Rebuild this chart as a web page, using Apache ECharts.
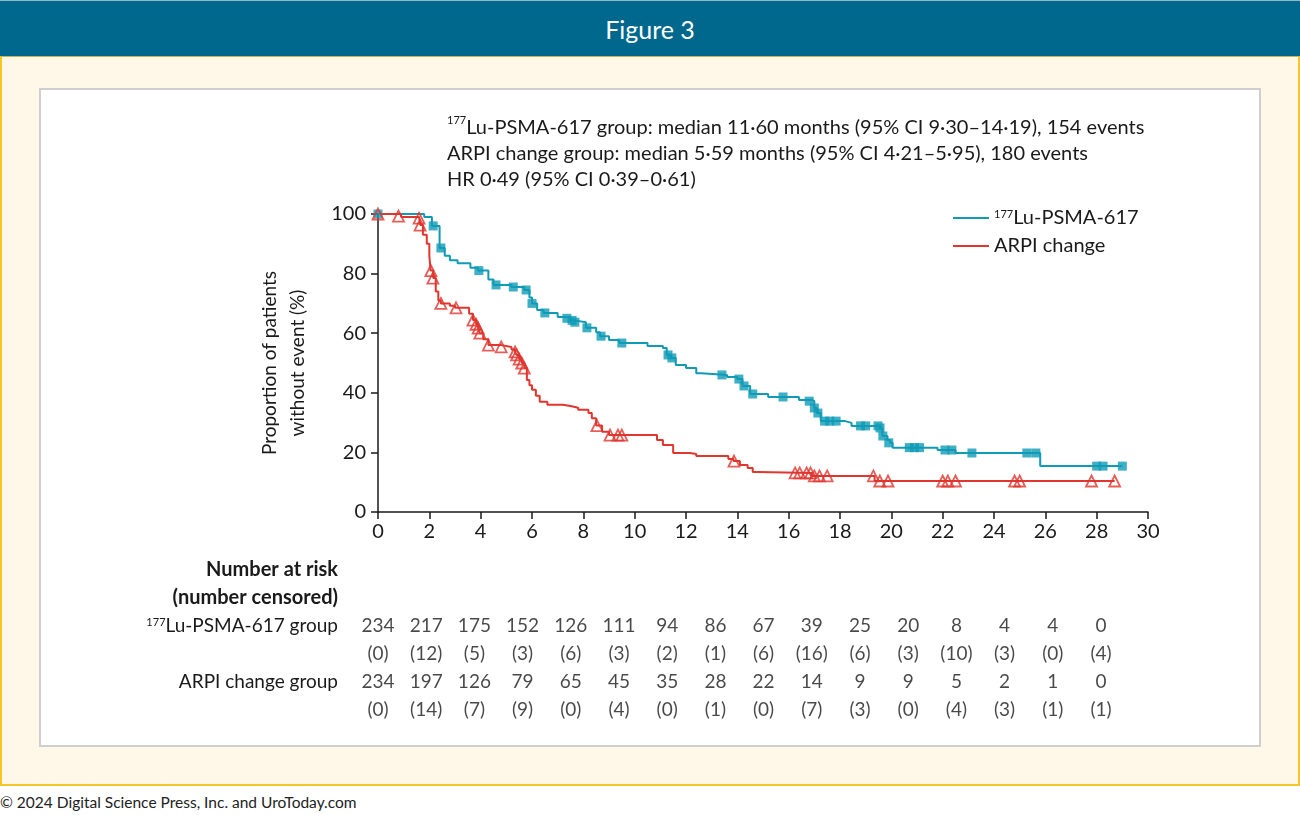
<!DOCTYPE html>
<html>
<head>
<meta charset="utf-8">
<script src="https://cdn.jsdelivr.net/npm/echarts@6/dist/echarts.min.js"></script>
<style>
  html, body { margin: 0; padding: 0; background: #ffffff; }
  body { width: 1300px; height: 815px; position: relative; overflow: hidden; font-family: Lato, "Open Sans", sans-serif; }
  #header { position: absolute; left: 0; top: 0; width: 1300px; height: 56px; background: #00678d; border-top: 1px solid #8fb8c8; box-sizing: border-box; color: #fff; font-size: 25px; text-align: center; line-height: 56px; }
  #cream { position: absolute; left: 0; top: 56px; width: 1300px; height: 730px; background: #fff8e8; border: 2px solid #f4c62a; border-top: 1px solid #c9b45a; box-sizing: border-box; }
  #panel { position: absolute; left: 39px; top: 88px; width: 1222px; height: 659px; background: #ffffff; border: 2px solid #cfcfcf; box-sizing: border-box; }
  #footer { position: absolute; left: 0; top: 793px; font-size: 15.5px; color: #222; }
  #chart { position: absolute; left: 0; top: 0; width: 1300px; height: 815px; }
</style>
</head>
<body>
<div id="header">Figure 3</div>
<div id="cream"></div>
<div id="panel"></div>
<div id="footer">© 2024 Digital Science Press, Inc. and UroToday.com</div>
<div id="chart"></div>
<script>
// ---- Data ----
const xTicks = [0, 2, 4, 6, 8, 10, 12, 14, 16, 18, 20, 22, 24, 26, 28, 30];

// 177Lu-PSMA-617 Kaplan-Meier steps: [month, % without event]
const luCurve = [
  [0,100],[1.8,99],[2.1,96],[2.4,88.6],[2.6,86],[2.8,84.5],[3.1,83.5],[3.6,82],[3.9,81],
  [4.3,78],[4.5,76.2],[5.2,75.5],[5.7,74.5],[5.9,72],[6.0,70],[6.2,67.8],[6.45,66.8],
  [7.0,65.4],[7.5,64.3],[7.65,63.7],[8.1,61.8],[8.5,60.3],[8.65,59],[9.0,57.7],[9.4,56.7],
  [10.5,55.7],[11.1,55],[11.25,52.7],[11.4,51.7],[11.6,49.3],[12.0,48.3],[12.4,46.6],
  [12.6,46],[13.6,45.3],[14.0,44.6],[14.2,42.3],[14.5,39.6],[15.2,38.6],[16.4,37.6],
  [16.9,37.2],[17.0,34.9],[17.1,33.2],[17.25,30.5],[18.2,29.9],[18.45,28.9],[19.55,28.2],
  [19.65,25.5],[19.85,24.2],[19.95,23.2],[20.05,21.6],[21.8,20.8],[22.5,19.8],[25.8,15.4],
  [29.0,15.4]
];
const luCensored = [
  [0,100],[2.15,96],[2.45,88.6],[3.93,81],[4.6,76.2],[5.27,75.5],[5.77,74.5],[6.0,70],
  [6.5,66.8],[7.36,65],[7.56,64.3],[7.67,63.7],[8.14,61.8],[8.69,59],[9.5,56.7],[11.3,52.7],
  [11.45,51.7],[13.4,46],[14.06,44.6],[14.26,42.3],[14.6,39.6],[15.78,38.6],[16.8,37.2],
  [17.0,34.9],[17.14,33.2],[17.4,30.5],[17.6,30.5],[17.85,30.5],[18.8,28.9],[19.0,28.9],
  [19.48,28.9],[19.56,28.2],[19.67,25.5],[19.9,23.2],[20.7,21.6],[20.9,21.6],[21.1,21.6],
  [22.09,20.8],[22.36,20.8],[23.14,19.8],[25.28,19.8],[25.63,19.8],[28.0,15.4],[28.25,15.4],
  [29.0,15.4]
];

// ARPI change Kaplan-Meier steps
const arpiCurve = [
  [0,100],[0.9,99],[1.6,98.6],[1.65,96.3],[1.75,93],[1.9,90],[2.0,86],[2.05,81],[2.15,78.5],
  [2.25,74],[2.35,71],[2.45,70],[2.8,69.2],[3.0,68.5],[3.55,66.5],[3.7,64.4],[3.82,63],
  [3.9,61.7],[3.97,60],[4.1,58],[4.3,56],[4.8,55.4],[5.2,54.5],[5.34,53.7],[5.4,52.7],
  [5.5,51.3],[5.6,50],[5.7,48.3],[5.8,44.3],[5.9,42.5],[6.0,41],[6.15,39],[6.3,37],
  [6.6,36],[7.2,35.6],[7.5,35],[7.8,34.3],[8.2,33.2],[8.33,31.5],[8.5,29],[8.73,26.9],
  [9.0,25.8],[10.87,24.2],[11.1,22.5],[11.5,19.8],[12.15,19.5],[12.4,18.8],[13.65,17.8],
  [13.85,17.1],[14.1,15.8],[14.4,14.8],[14.6,13.4],[14.8,13.1],[16.9,12.1],[19.35,10.4],
  [28.7,10.4]
];
const arpiCensored = [
  [0,100],[0.8,99.3],[1.6,98.6],[1.64,96.3],[2.06,81],[2.14,78.5],[2.45,70],[3.04,68.5],
  [3.7,64.4],[3.82,63],[3.9,61.7],[3.97,60],[4.3,56],[4.8,55.4],[5.34,53.7],[5.4,52.7],
  [5.5,51.3],[5.6,50],[5.7,48.3],[8.53,29],[9.04,25.8],[9.35,25.8],[9.5,25.8],[13.87,17.1],
  [16.25,13.1],[16.43,13.1],[16.7,13.1],[16.85,13.1],[17.0,12.1],[17.2,12.1],[17.5,12.1],
  [19.3,12.1],[19.55,10.4],[19.87,10.4],[22.0,10.4],[22.2,10.4],[22.5,10.4],[24.8,10.4],
  [25.0,10.4],[27.8,10.4],[28.7,10.4]
];

// Number at risk table
const riskLu     = [234, 217, 175, 152, 126, 111, 94, 86, 67, 39, 25, 20, 8, 4, 4, 0];
const censLu     = [0, 12, 5, 3, 6, 3, 2, 1, 6, 16, 6, 3, 10, 3, 0, 4];
const riskArpi   = [234, 197, 126, 79, 65, 45, 35, 28, 22, 14, 9, 9, 5, 2, 1, 0];
const censArpi   = [0, 14, 7, 9, 0, 4, 0, 1, 0, 7, 3, 0, 4, 3, 1, 1];
const tableRows  = ['Number at risk', '(number censored)', '177Lu-PSMA-617 group', '', 'ARPI change group', ''];

const annotationLines = [
  '{sup|177}Lu-PSMA-617 group: median 11·60 months (95% CI 9·30–14·19), 154 events',
  'ARPI change group: median 5·59 months (95% CI 4·21–5·95), 180 events',
  'HR 0·49 (95% CI 0·39–0·61)'
];

// ---- Styles ----
const TEAL = '#0f9bb6';
const RED = '#e0362e';
const FONT = 'Lato';
const TXT = '#1a1a1a';

const chart = echarts.init(document.getElementById('chart'), null, { renderer: 'canvas' });

const tableData = [];
riskLu.forEach((v, i) => tableData.push([i, tableRows[2], String(v)]));
censLu.forEach((v, i) => tableData.push([i, 'c1', '(' + v + ')']));
riskArpi.forEach((v, i) => tableData.push([i, tableRows[4], String(v)]));
censArpi.forEach((v, i) => tableData.push([i, 'c2', '(' + v + ')']));
const catRows = [tableRows[0], tableRows[1], tableRows[2], 'c1', tableRows[4], 'c2'];

const option = {
  backgroundColor: 'transparent',
  animation: false,
  textStyle: { fontFamily: FONT, color: TXT },
  title: {
    left: 442, top: 110,
    text: annotationLines.join('\n'),
    textStyle: {
      fontFamily: FONT, fontSize: 20, fontWeight: 'normal', color: TXT, lineHeight: 26,
      rich: { sup: { fontSize: 11, verticalAlign: 'top', lineHeight: 26, padding: [0, 0, 8, 0], fontFamily: FONT, color: TXT } }
    }
  },
  legend: {
    data: ['177Lu-PSMA-617', 'ARPI change'],
    orient: 'vertical', left: 948, top: 203, itemGap: 8,
    itemWidth: 36, itemHeight: 14,
    icon: 'path://M0,6 L36,6 L36,8 L0,8 Z',
    formatter: n => n === '177Lu-PSMA-617' ? '{sup|177}{t|Lu-PSMA-617}' : '{t|ARPI change}',
    textStyle: {
      rich: {
        t: { fontSize: 20, fontFamily: FONT, color: TXT },
        sup: { fontSize: 11, fontFamily: FONT, color: TXT, padding: [0, 0, 8, 0] }
      }
    }
  },
  grid: [
    { left: 378, right: 152, top: 214, bottom: 303, containLabel: false },
    { left: 378, width: 723, top: 556, height: 168, containLabel: false }
  ],
  xAxis: [
    {
      gridIndex: 0, type: 'value', min: 0, max: 30, interval: 2,
      axisLine: { lineStyle: { color: '#1a1a1a', width: 1.5 } },
      axisTick: { length: 7, lineStyle: { color: '#1a1a1a', width: 1.5 } },
      splitLine: { show: false },
      axisLabel: { fontSize: 20, color: TXT, margin: 10, fontFamily: FONT }
    },
    { gridIndex: 1, type: 'value', min: 0, max: 15, show: false }
  ],
  yAxis: [
    {
      gridIndex: 0, type: 'value', min: 0, max: 100, interval: 20,
      name: 'Proportion of patients\nwithout event (%)',
      nameLocation: 'middle', nameGap: 66, nameRotate: 90,
      nameTextStyle: { fontSize: 19, color: TXT, lineHeight: 28, fontFamily: FONT },
      axisLine: { show: true, lineStyle: { color: '#1a1a1a', width: 1.5 } },
      axisTick: { show: true, length: 7, lineStyle: { color: '#1a1a1a', width: 1.5 } },
      splitLine: { show: false },
      axisLabel: { fontSize: 20, color: TXT, margin: 12, fontFamily: FONT }
    },
    {
      gridIndex: 1, type: 'category', inverse: true, data: catRows,
      axisLine: { show: false }, axisTick: { show: false }, splitLine: { show: false },
      axisLabel: {
        margin: 40, align: 'right',
        formatter: v => {
          if (v === tableRows[0] || v === tableRows[1]) return '{b|' + v + '}';
          if (v === tableRows[2]) return '{sup|177}{t|Lu-PSMA-617 group}';
          if (v === tableRows[4]) return '{t|' + v + '}';
          return '';
        },
        rich: {
          b: { fontSize: 20, fontWeight: 'bold', fontFamily: FONT, color: TXT },
          t: { fontSize: 19, fontFamily: FONT, color: TXT },
          sup: { fontSize: 11, fontFamily: FONT, color: TXT, padding: [0, 0, 8, 0] }
        }
      }
    }
  ],
  series: [
    {
      name: '177Lu-PSMA-617', type: 'line', step: 'end', data: luCurve,
      xAxisIndex: 0, yAxisIndex: 0, showSymbol: false, symbol: 'none',
      lineStyle: { color: TEAL, width: 2 }, itemStyle: { color: TEAL }, z: 3
    },
    {
      name: 'ARPI change', type: 'line', step: 'end', data: arpiCurve,
      xAxisIndex: 0, yAxisIndex: 0, showSymbol: false, symbol: 'none',
      lineStyle: { color: RED, width: 2 }, itemStyle: { color: RED }, z: 3
    },
    {
      name: 'lu-censored', type: 'scatter', data: luCensored,
      xAxisIndex: 0, yAxisIndex: 0, symbol: 'rect', symbolSize: 9,
      itemStyle: { color: TEAL }, z: 4
    },
    {
      name: 'arpi-censored', type: 'scatter', data: arpiCensored,
      xAxisIndex: 0, yAxisIndex: 0, symbol: 'triangle', symbolSize: 11,
      itemStyle: { color: 'rgba(255,255,255,0)', borderColor: RED, borderWidth: 1.8 }, z: 5
    },
    {
      name: 'risk-table', type: 'scatter', data: tableData,
      xAxisIndex: 1, yAxisIndex: 1, symbolSize: 0, silent: true,
      label: {
        show: true, position: 'inside', fontSize: 19, color: TXT, fontFamily: FONT,
        formatter: p => p.value[2]
      }
    }
  ]
};
chart.setOption(option);
</script>
</body>
</html>
